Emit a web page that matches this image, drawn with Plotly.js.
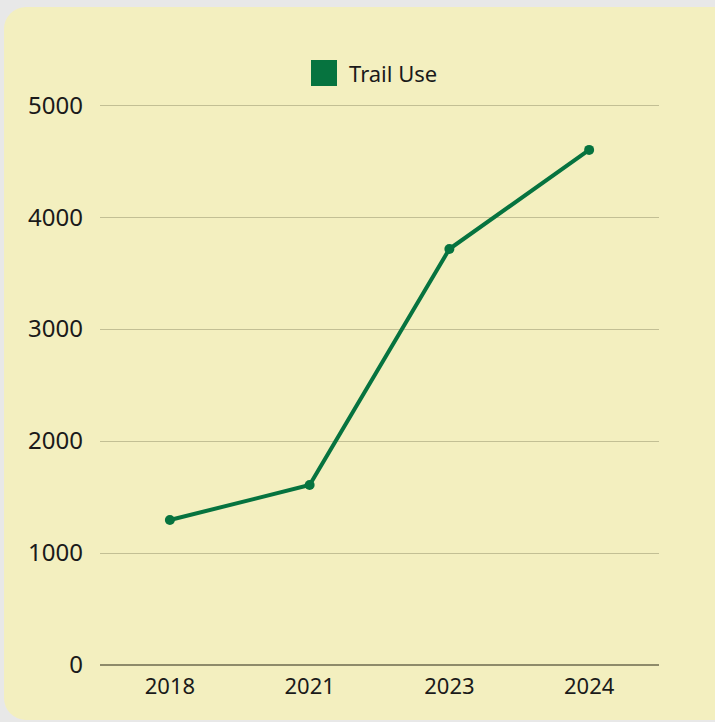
<!DOCTYPE html>
<html>
<head>
<meta charset="utf-8">
<script src="https://cdn.plot.ly/plotly-3.0.1.min.js"></script>
<style>
  html, body { margin:0; padding:0; background:#e8e8e8; width:715px; height:722px; overflow:hidden; }
  #panel { position:absolute; left:4px; top:7px; width:740px; height:713px; background:#f3efbf; border-radius:22px; }
  #chart { position:absolute; left:0; top:0; width:715px; height:722px; }
</style>
</head>
<body>
<div id="panel"></div>
<div id="chart"></div>
<script>
const years = ["2018", "2021", "2023", "2024"];
const trailUse = [1295, 1607, 3715, 4600];
const seriesName = "Trail Use";
const yTicks = [0, 1000, 2000, 3000, 4000, 5000];

const green = "#06733f";
const fontFam = "'Noto Sans', 'Roboto', sans-serif";

const trace = {
  x: years, y: trailUse, name: seriesName, type: "scatter", mode: "lines+markers",
  line: { color: green, width: 4 },
  marker: { color: green, size: 10 },
  showlegend: false, hoverinfo: "x+y"
};

const layout = {
  width: 715, height: 722,
  margin: { l: 100, r: 56, t: 104, b: 57 },
  paper_bgcolor: "rgba(0,0,0,0)", plot_bgcolor: "rgba(0,0,0,0)",
  font: { family: fontFam, size: 22, color: "#1a1a1a" },
  xaxis: {
    type: "category", range: [-0.5, 3.5], showgrid: false, zeroline: false, showline: false,
    ticks: "", ticklabelstandoff: 6, tickfont: { size: 22 }
  },
  yaxis: {
    range: [0, 5010], tickvals: yTicks, ticktext: yTicks.map(String),
    showgrid: true, gridcolor: "#c2bf94", gridwidth: 1,
    zeroline: true, zerolinecolor: "#8e8b6a", zerolinewidth: 1.5,
    showline: false, ticks: "", ticklabelstandoff: 16, tickfont: { size: 24 }
  },
  shapes: [{
    type: "rect", xref: "paper", yref: "paper",
    x0: 211/559, x1: 237/559, y0: 1 + (104-86)/561, y1: 1 + (104-60)/561,
    fillcolor: green, line: { width: 0 }
  }],
  annotations: [{
    xref: "paper", yref: "paper", x: 247/559, y: 1 + (104-73)/561,
    xanchor: "left", yanchor: "middle", showarrow: false,
    text: seriesName, font: { size: 22, color: "#1a1a1a" }
  }]
};

Plotly.newPlot("chart", [trace], layout, { displayModeBar: false, staticPlot: true });
</script>
</body>
</html>
